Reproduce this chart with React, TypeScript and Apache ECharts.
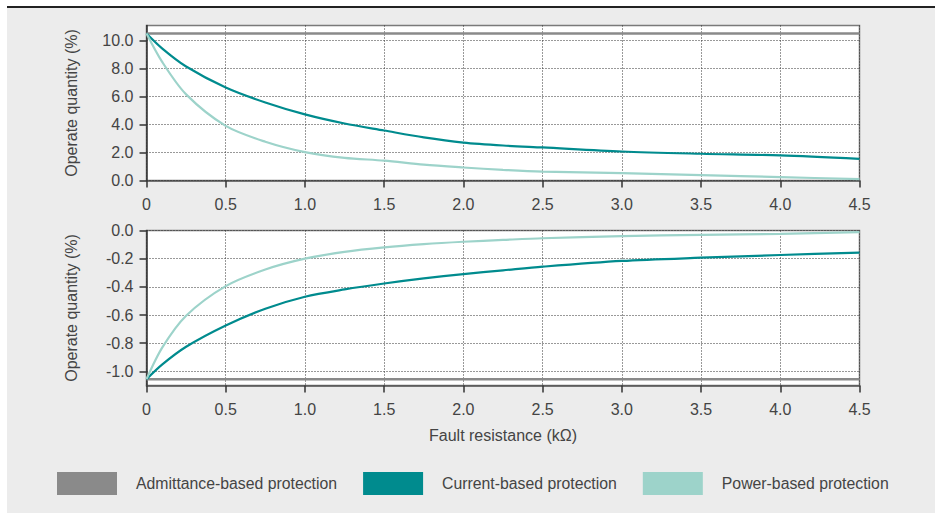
import React, { useEffect, useRef } from "react";
import * as echarts from "echarts";

// Fault resistance (kΩ) sample positions
const faultResistance = [0, 0.1, 0.25, 0.5, 0.75, 1.0, 1.25, 1.5, 1.75, 2.0, 2.25, 2.5, 3.0, 3.5, 4.0, 4.5];

// Upper panel (positive operate quantity, %)
const topCurrent = [10.5, 9.42, 8.14, 6.64, 5.57, 4.72, 4.07, 3.57, 3.08, 2.71, 2.5, 2.36, 2.07, 1.91, 1.79, 1.55];
const topPower = [10.5, 8.45, 6.15, 3.9, 2.77, 2.03, 1.62, 1.42, 1.13, 0.93, 0.76, 0.64, 0.53, 0.39, 0.24, 0.1];
const topAdmittance = [10.5, 10.5];

// Lower panel (negative operate quantity, %)
const bottomCurrent = [-1.055, -0.95, -0.825, -0.674, -0.555, -0.47, -0.418, -0.376, -0.34, -0.309, -0.283, -0.257, -0.216, -0.193, -0.174, -0.157];
const bottomPower = [-1.055, -0.83, -0.605, -0.395, -0.277, -0.2, -0.152, -0.12, -0.097, -0.08, -0.067, -0.055, -0.04, -0.031, -0.024, -0.012];
const bottomAdmittance = [-1.055, -1.055];
const admittanceX = [0, 4.5];

// Tick values
const topYTicks = [0, 2, 4, 6, 8, 10];
const bottomYTicks = [-1.0, -0.8, -0.6, -0.4, -0.2, 0.0];

const seriesNames = ["Admittance-based protection", "Current-based protection", "Power-based protection"];
const xAxisTitle = "Fault resistance (kΩ)";
const yAxisTitle = "Operate quantity (%)";

const GRAY = "#8a8a8a";
const TEAL = "#008b8e";
const LIGHT = "#9dd3ca";
const TEXT = "#444";
const FONT = "'Liberation Sans', Arial, Helvetica, sans-serif";
const FS = 16;

const pair = (xs: number[], ys: number[]) => xs.map((x, i) => [x, ys[i]]);

export default function App() {
  const ref = useRef<HTMLDivElement>(null);

  useEffect(() => {
    if (!ref.current) return;
    const chart = echarts.init(ref.current, undefined, { renderer: "svg" });

    const gridBase = {
      left: 146.5,
      width: 713,
      height: 155,
      show: true,
      backgroundColor: "#ffffff",
      borderColor: "#7a7a7a",
      borderWidth: 1.5,
    };

    const gridLineStyle = { type: [1, 2], color: "#333", width: 1 };

    const xAxisBase = (gridIndex: number, extra: any = {}) => ({
      type: "value",
      gridIndex,
      min: 0,
      max: 4.5,
      interval: 0.5,
      axisLine: { show: true, onZero: false, lineStyle: { color: "#555", width: 1.5 } },
      axisTick: { show: true, length: 7, lineStyle: { color: "#333", width: 1.5 } },
      axisLabel: {
        margin: 16,
        color: TEXT,
        fontSize: FS,
        fontFamily: FONT,
        formatter: (v: number) => (v === 0 ? "0" : v.toFixed(1)),
      },
      splitLine: { show: true, lineStyle: gridLineStyle },
      ...extra,
    });

    const yAxisBase = (gridIndex: number, min: number, max: number, ticks: number[]) => ({
      type: "value",
      gridIndex,
      min,
      max,
      name: yAxisTitle,
      nameLocation: "middle",
      nameGap: 67,
      nameRotate: 90,
      nameTextStyle: { color: TEXT, fontSize: FS, fontFamily: FONT },
      axisLine: { show: true, onZero: false, lineStyle: { color: "#333", width: 1.5 } },
      axisTick: { show: true, length: 7, customValues: ticks, lineStyle: { color: "#333", width: 1.5 } },
      axisLabel: {
        margin: 13,
        color: TEXT,
        fontSize: FS,
        fontFamily: FONT,
        customValues: ticks,
        formatter: (v: number) => v.toFixed(1),
      },
      splitLine: { show: false },
    });

    const lineSeries = (name: string, xi: number, data: number[][], color: string, width: number, extra: any = {}) => ({
      name,
      type: "line",
      xAxisIndex: xi,
      yAxisIndex: xi,
      data,
      showSymbol: false,
      symbol: "none",
      smooth: 0.3,
      lineStyle: { color, width },
      itemStyle: { color },
      z: 3,
      ...extra,
    });

    const gridMarkLines = (ticks: number[]) => ({
      markLine: {
        silent: true,
        symbol: "none",
        label: { show: false },
        lineStyle: gridLineStyle,
        z: 1,
        data: ticks.map((t) => ({ yAxis: t })),
      },
    });

    chart.setOption({
      animation: false,
      backgroundColor: "transparent",
      textStyle: { fontFamily: FONT },
      grid: [
        { ...gridBase, top: 25.5 },
        { ...gridBase, top: 230.5 },
      ],
      xAxis: [xAxisBase(0), xAxisBase(1, {
        name: xAxisTitle,
        nameLocation: "middle",
        nameGap: 42,
        nameTextStyle: { color: TEXT, fontSize: FS, fontFamily: FONT },
      })],
      yAxis: [yAxisBase(0, 0, 11.07, topYTicks), yAxisBase(1, -1.1, 0, bottomYTicks)],
      legend: {
        left: 57,
        top: 472,
        padding: 0,
        itemWidth: 60,
        itemHeight: 23,
        itemGap: 26,
        icon: "rect",
        selectedMode: false,
        data: seriesNames,
        textStyle: { color: TEXT, fontSize: 15.8, fontFamily: FONT, padding: [0, 0, 0, 14] },
      },
      series: [
        lineSeries(seriesNames[0], 0, pair(admittanceX, topAdmittance), GRAY, 2.5, gridMarkLines(topYTicks)),
        lineSeries(seriesNames[1], 0, pair(faultResistance, topCurrent), TEAL, 2.2),
        lineSeries(seriesNames[2], 0, pair(faultResistance, topPower), LIGHT, 2.2),
        lineSeries(seriesNames[0], 1, pair(admittanceX, bottomAdmittance), GRAY, 2.5, gridMarkLines(bottomYTicks)),
        lineSeries(seriesNames[1], 1, pair(faultResistance, bottomCurrent), TEAL, 2.2),
        lineSeries(seriesNames[2], 1, pair(faultResistance, bottomPower), LIGHT, 2.2),
      ],
    });

    return () => chart.dispose();
  }, []);

  return (
    <div style={{ position: "absolute", left: 0, top: 0, width: 935, height: 513, background: "#ffffff", overflow: "hidden" }}>
      <div style={{ position: "absolute", left: 7, top: 8, width: 928, height: 505, background: "#ececec" }} />
      <div style={{ position: "absolute", left: 7, top: 6, width: 928, height: 1.5, background: "#222" }} />
      <div ref={ref} style={{ position: "absolute", left: 0, top: 0, width: 935, height: 513 }} />
    </div>
  );
}
